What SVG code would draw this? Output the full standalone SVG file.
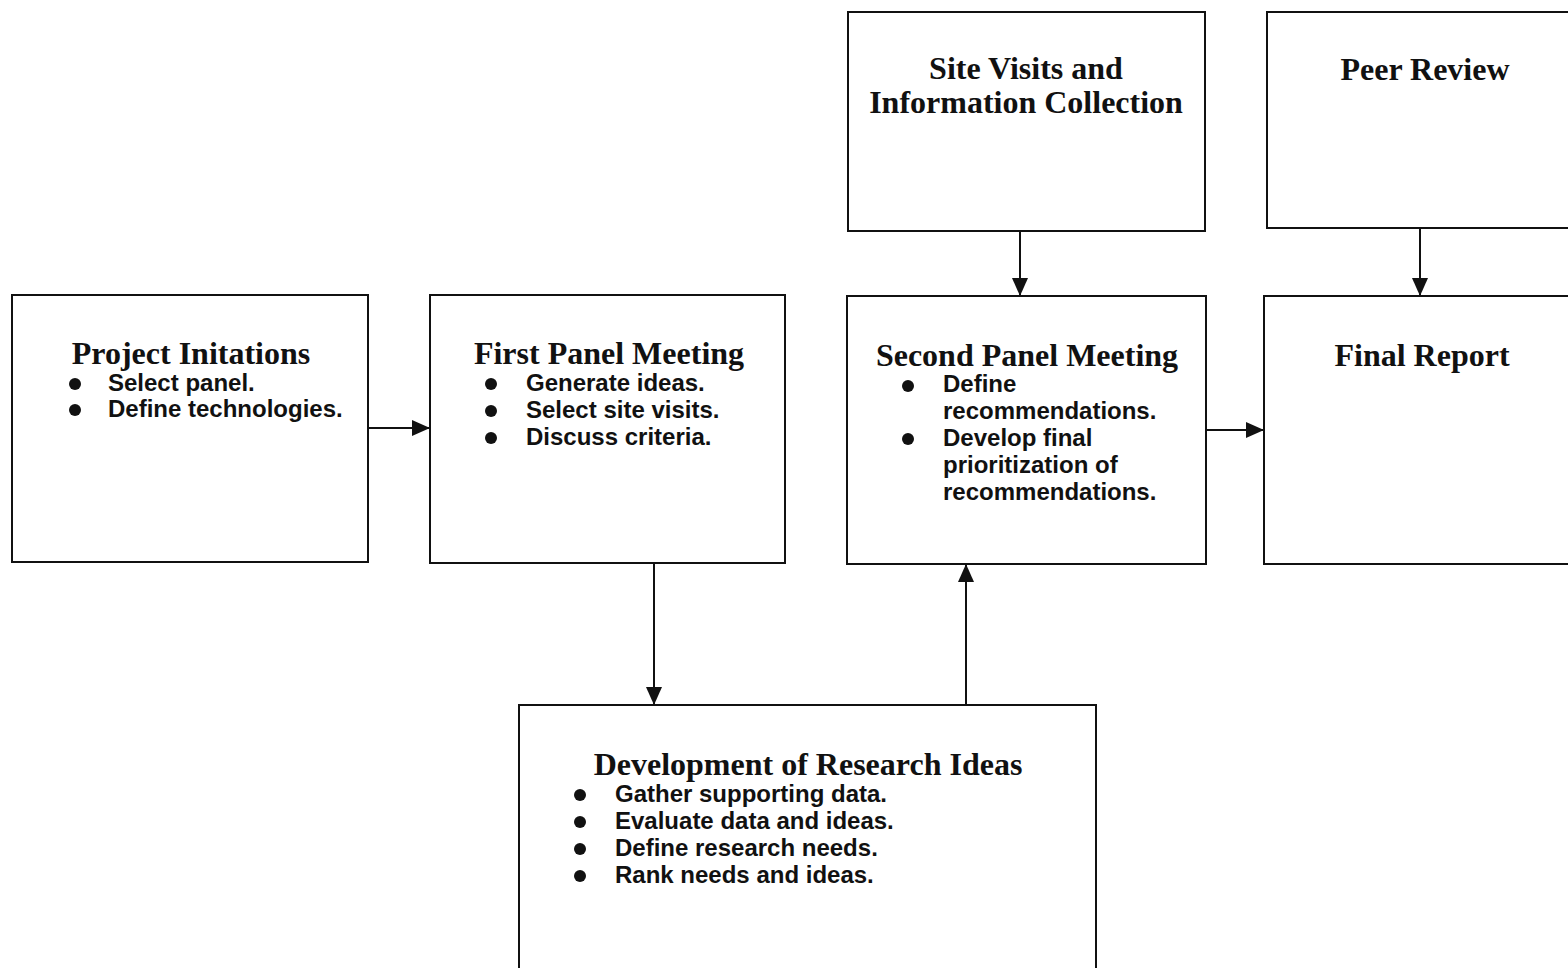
<svg xmlns="http://www.w3.org/2000/svg" width="1568" height="968" viewBox="0 0 1568 968">
<style>
.box{fill:#fff;stroke:#111;stroke-width:2}
.t{font-family:"Liberation Serif","Times New Roman",serif;font-weight:bold;font-size:32px;fill:#111;text-anchor:middle}
.b{font-family:"Liberation Sans",Arial,sans-serif;font-weight:bold;font-size:24px;fill:#111}
.dot{fill:#111}
.c{stroke:#111;stroke-width:2;fill:none;marker-end:url(#ah)}
</style>
<defs>
<marker id="ah" markerUnits="userSpaceOnUse" markerWidth="18" markerHeight="16" viewBox="0 0 18 16" refX="18" refY="8" orient="auto">
<path d="M0,0 L18,8 L0,16 Z" fill="#111"/>
</marker>
</defs>
<rect width="1568" height="968" fill="#fff"/>
<g id="connectors">
<line class="c" x1="368" y1="428" x2="430" y2="428"/>
<line class="c" x1="1206" y1="430" x2="1264" y2="430"/>
<line class="c" x1="1020" y1="231" x2="1020" y2="296"/>
<line class="c" x1="1420" y1="228" x2="1420" y2="296"/>
<line class="c" x1="654" y1="563" x2="654" y2="705"/>
<line class="c" x1="966" y1="705" x2="966" y2="564"/>
</g>
<g id="project-initations">
<rect class="box" x="12" y="295" width="356" height="267"/>
<text class="t" x="191" y="364">Project Initations</text>
<circle class="dot" cx="75" cy="384" r="6"/>
<text class="b" x="108" y="391">Select panel.</text>
<circle class="dot" cx="75" cy="410" r="6"/>
<text class="b" x="108" y="417">Define technologies.</text>
</g>
<g id="first-panel-meeting">
<rect class="box" x="430" y="295" width="355" height="268"/>
<text class="t" x="609" y="364">First Panel Meeting</text>
<circle class="dot" cx="491" cy="384" r="6"/>
<text class="b" x="526" y="391">Generate ideas.</text>
<circle class="dot" cx="491" cy="411" r="6"/>
<text class="b" x="526" y="418">Select site visits.</text>
<circle class="dot" cx="491" cy="438" r="6"/>
<text class="b" x="526" y="445">Discuss criteria.</text>
</g>
<g id="site-visits">
<rect class="box" x="848" y="12" width="357" height="219"/>
<text class="t" x="1026" y="79">Site Visits and</text>
<text class="t" x="1026" y="113">Information Collection</text>
</g>
<g id="peer-review">
<rect class="box" x="1267" y="12" width="320" height="216"/>
<text class="t" x="1425" y="80">Peer Review</text>
</g>
<g id="second-panel-meeting">
<rect class="box" x="847" y="296" width="359" height="268"/>
<text class="t" x="1027" y="366">Second Panel Meeting</text>
<circle class="dot" cx="908" cy="386" r="6"/>
<text class="b" x="943" y="392">Define</text>
<text class="b" x="943" y="419">recommendations.</text>
<circle class="dot" cx="908" cy="439" r="6"/>
<text class="b" x="943" y="446">Develop final</text>
<text class="b" x="943" y="473">prioritization of</text>
<text class="b" x="943" y="500">recommendations.</text>
</g>
<g id="final-report">
<rect class="box" x="1264" y="296" width="320" height="268"/>
<text class="t" x="1422" y="366">Final Report</text>
</g>
<g id="development">
<rect class="box" x="519" y="705" width="577" height="275"/>
<text class="t" x="808" y="775">Development of Research Ideas</text>
<circle class="dot" cx="580" cy="795" r="6"/>
<text class="b" x="615" y="802">Gather supporting data.</text>
<circle class="dot" cx="580" cy="822" r="6"/>
<text class="b" x="615" y="829">Evaluate data and ideas.</text>
<circle class="dot" cx="580" cy="849" r="6"/>
<text class="b" x="615" y="856">Define research needs.</text>
<circle class="dot" cx="580" cy="876" r="6"/>
<text class="b" x="615" y="883">Rank needs and ideas.</text>
</g>
</svg>
